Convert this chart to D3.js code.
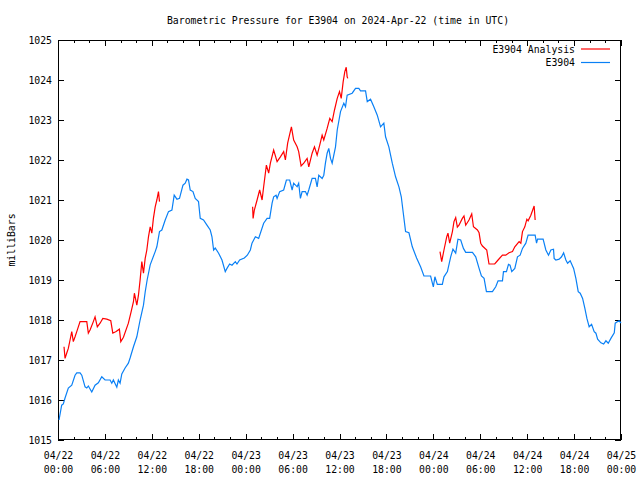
<!DOCTYPE html>
<html>
<head>
<meta charset="utf-8">
<script src="https://cdn.jsdelivr.net/npm/d3@7"></script>
<style>
  body { margin: 0; background: #fff; }
  svg { display: block; font-family: "DejaVu Sans Mono", "Liberation Mono", monospace; }
  .axis text { font-family: "DejaVu Sans Mono", "Liberation Mono", monospace; font-size: 9.8px; fill: #000; }
  .axis line { stroke: #000; }
</style>
</head>
<body>
<div id="chart"></div>
<script>
// hours after 2024-04-22 00:00 UTC, pressure in mbar
const stationHours = [0.13, 0.47, 0.68, 0.9, 1.32, 1.76, 2.18, 2.4, 2.82, 3.04, 3.46, 3.68, 3.88, 4.32, 4.74, 5.16, 5.6, 6.02, 6.66, 6.88, 7.08, 7.52, 7.72, 7.94, 8.16, 8.58, 9.0, 9.22, 9.65, 10.08, 10.5, 10.93, 11.15, 11.4, 11.79, 12.43, 12.64, 12.98, 13.28, 13.71, 14.13, 14.57, 14.86, 15.21, 15.54, 15.98, 16.27, 16.49, 16.69, 16.91, 17.26, 17.55, 17.97, 18.19, 18.61, 19.05, 19.47, 19.69, 19.9, 20.11, 20.54, 20.97, 21.39, 21.61, 21.95, 22.25, 22.68, 22.89, 23.23, 23.83, 24.21, 24.6, 24.81, 25.24, 25.66, 26.3, 26.74, 27.07, 27.38, 27.58, 27.89, 28.02, 28.35, 28.86, 29.21, 29.63, 29.94, 30.14, 30.58, 30.78, 31.0, 31.22, 31.64, 31.86, 32.07, 32.5, 32.92, 33.14, 33.35, 33.78, 33.99, 34.2, 34.42, 34.63, 34.85, 35.06, 35.49, 35.71, 36.13, 36.55, 36.77, 36.98, 37.62, 38.05, 38.47, 38.69, 39.33, 39.55, 39.97, 40.39, 40.83, 41.25, 41.67, 41.89, 42.31, 42.75, 43.17, 43.6, 43.9, 44.16, 44.45, 44.88, 45.31, 45.86, 46.37, 46.8, 47.65, 48.0, 48.2, 48.51, 49.15, 49.36, 49.8, 50.22, 50.51, 50.86, 51.15, 51.5, 51.85, 52.14, 53.0, 53.42, 53.85, 54.15, 54.49, 54.79, 55.56, 55.98, 56.28, 56.84, 56.97, 57.35, 57.61, 57.81, 58.03, 58.42, 58.76, 59.1, 59.4, 59.83, 60.12, 61.02, 61.2, 61.33, 62.04, 62.39, 62.73, 63.03, 63.37, 63.45, 63.67, 64.09, 64.4, 64.66, 64.95, 65.17, 65.5, 65.94, 66.23, 66.53, 66.78, 67.09, 67.38, 67.64, 67.93, 68.24, 68.57, 68.79, 69.01, 69.43, 69.78, 70.07, 70.37, 70.71, 71.14, 71.26, 71.57, 71.77, 72.0];
const stationValues = [1015.5, 1015.87, 1015.9, 1016.05, 1016.3, 1016.37, 1016.62, 1016.68, 1016.68, 1016.62, 1016.33, 1016.3, 1016.35, 1016.2, 1016.37, 1016.43, 1016.58, 1016.5, 1016.5, 1016.42, 1016.5, 1016.32, 1016.5, 1016.42, 1016.65, 1016.8, 1016.92, 1017.05, 1017.33, 1017.58, 1018.0, 1018.37, 1018.7, 1019.0, 1019.38, 1019.71, 1019.83, 1020.21, 1020.25, 1020.5, 1020.71, 1020.75, 1021.12, 1021.02, 1021.04, 1021.37, 1021.42, 1021.52, 1021.5, 1021.25, 1021.21, 1021.04, 1020.96, 1020.54, 1020.5, 1020.37, 1020.25, 1020.08, 1019.75, 1019.8, 1019.67, 1019.5, 1019.21, 1019.29, 1019.4, 1019.37, 1019.46, 1019.4, 1019.5, 1019.55, 1019.62, 1019.75, 1019.92, 1020.08, 1020.04, 1020.42, 1020.54, 1020.54, 1020.92, 1021.08, 1021.12, 1021.04, 1021.21, 1021.25, 1021.5, 1021.5, 1021.25, 1021.42, 1021.33, 1021.42, 1021.04, 1021.21, 1021.21, 1021.12, 1021.25, 1021.54, 1021.54, 1021.33, 1021.62, 1021.54, 1021.62, 1021.92, 1022.17, 1022.29, 1022.04, 1021.92, 1022.33, 1022.75, 1023.21, 1023.42, 1023.33, 1023.62, 1023.67, 1023.79, 1023.79, 1023.73, 1023.73, 1023.46, 1023.52, 1023.33, 1023.12, 1022.83, 1022.92, 1022.58, 1022.33, 1021.92, 1021.58, 1021.33, 1021.08, 1020.67, 1020.21, 1020.18, 1019.83, 1019.55, 1019.33, 1019.1, 1019.1, 1018.83, 1019.08, 1018.89, 1018.89, 1019.08, 1019.21, 1019.58, 1019.77, 1019.67, 1020.02, 1020.0, 1019.79, 1019.69, 1019.69, 1019.58, 1019.29, 1019.1, 1019.04, 1018.71, 1018.71, 1018.83, 1018.98, 1018.98, 1019.21, 1019.21, 1019.39, 1019.37, 1019.21, 1019.29, 1019.58, 1019.62, 1019.79, 1019.92, 1020.12, 1020.12, 1019.92, 1020.02, 1020.02, 1019.75, 1019.62, 1019.75, 1019.77, 1019.54, 1019.5, 1019.52, 1019.58, 1019.68, 1019.5, 1019.42, 1019.48, 1019.29, 1019.04, 1018.71, 1018.67, 1018.54, 1018.29, 1018.04, 1017.83, 1017.89, 1017.71, 1017.67, 1017.52, 1017.43, 1017.4, 1017.48, 1017.42, 1017.54, 1017.68, 1017.92, 1017.96, 1017.98, 1017.92];

// analysis series, null = gap between runs
const analysisHours = [0.77, 0.9, 1.11, 1.32, 1.54, 1.76, 1.96, 2.18, 2.4, 2.82, 3.68, 3.88, 4.1, 4.52, 4.74, 5.03, 5.38, 5.73, 6.24, 6.75, 7.01, 7.43, 7.85, 8.03, 8.37, 9.0, 9.31, 9.65, 9.77, 10.08, 10.29, 10.5, 10.72, 10.93, 11.15, 11.36, 11.57, 11.79, 12.0, 12.2, 12.43, 12.64, 12.85, 12.98,
  18.0,
  24.89, 24.95, 25.11, 25.46, 25.79, 26.1, 26.3, 26.65, 26.94, 27.16, 27.58, 28.02, 28.44, 28.86, 29.08, 29.37, 29.85, 30.14, 30.58, 30.78, 31.09, 31.43, 31.86, 32.07, 32.5, 32.8, 33.14, 33.47, 33.78, 33.99, 34.42, 34.76, 35.06, 35.36, 35.71, 36.0, 36.22, 36.47, 36.68, 36.86, 36.98, 37.06,
  42.0,
  48.85, 49.07, 49.36, 49.71, 49.87, 50.09, 50.44, 50.64, 50.86, 51.07, 51.28, 51.71, 51.92, 52.14, 52.56, 52.91, 53.13, 53.64, 53.85, 54.06, 54.28, 54.83, 55.12, 55.85, 56.28, 56.84, 57.26, 57.68, 58.12, 58.42, 58.97, 59.19, 59.4, 59.7, 59.96, 60.12, 60.47, 60.89, 61.02];
const analysisValues = [1017.33, 1017.04, 1017.17, 1017.29, 1017.5, 1017.71, 1017.46, 1017.58, 1017.71, 1017.96, 1017.96, 1017.67, 1017.75, 1017.96, 1018.08, 1017.83, 1017.92, 1018.04, 1018.02, 1017.98, 1017.67, 1017.71, 1017.77, 1017.46, 1017.57, 1017.92, 1018.17, 1018.46, 1018.67, 1018.37, 1018.62, 1019.0, 1019.46, 1019.17, 1019.54, 1019.75, 1020.08, 1020.33, 1020.17, 1020.54, 1020.83, 1021.0, 1021.21, 1020.96,
  null,
  1020.83, 1020.54, 1020.75, 1021.0, 1021.25, 1021.0, 1021.33, 1021.87, 1021.67, 1021.92, 1022.25, 1021.96, 1022.08, 1022.21, 1022.0, 1022.42, 1022.83, 1022.5, 1022.33, 1022.21, 1021.85, 1021.92, 1022.04, 1021.83, 1022.17, 1022.33, 1022.12, 1022.37, 1022.62, 1022.5, 1022.79, 1023.04, 1022.96, 1023.25, 1023.54, 1023.71, 1023.54, 1023.96, 1024.21, 1024.32, 1024.08, 1024.04,
  null,
  1019.71, 1019.46, 1019.75, 1020.08, 1020.17, 1019.92, 1020.21, 1020.46, 1020.56, 1020.32, 1020.37, 1020.54, 1020.6, 1020.37, 1020.5, 1020.65, 1020.33, 1020.25, 1020.18, 1019.92, 1019.85, 1019.75, 1019.4, 1019.4, 1019.5, 1019.62, 1019.62, 1019.68, 1019.71, 1019.83, 1019.96, 1019.92, 1020.21, 1020.33, 1020.52, 1020.48, 1020.62, 1020.85, 1020.5];

const seriesNames = ['E3904 Analysis', 'E3904'];
const seriesColors = ['#ff0000', '#0a80f5'];
const yTicks = [1015, 1016, 1017, 1018, 1019, 1020, 1021, 1022, 1023, 1024, 1025];
const titleText = 'Barometric Pressure for E3904 on 2024-Apr-22 (time in UTC)';
const yLabel = 'milliBars';

const start = new Date(Date.UTC(2024, 3, 22, 0, 0));
const end = new Date(Date.UTC(2024, 3, 25, 0, 0));
const toDate = h => new Date(start.getTime() + h * 3600e3);

const width = 640, height = 480;
const plotLeft = 58, plotRight = 621, plotTop = 40, plotBottom = 440;

const x = d3.scaleUtc().domain([start, end]).range([plotLeft, plotRight]);
const y = d3.scaleLinear().domain([1015, 1025]).range([plotBottom, plotTop]);

const svg = d3.select('#chart').append('svg')
  .attr('width', width)
  .attr('height', height);

svg.append('text')
  .attr('x', 338)
  .attr('y', 24)
  .attr('text-anchor', 'middle')
  .style('font-size', '9.8px')
  .text(titleText);

svg.append('text')
  .attr('transform', `translate(15,${(plotTop + plotBottom) / 2}) rotate(-90)`)
  .attr('text-anchor', 'middle')
  .style('font-size', '9.8px')
  .text(yLabel);

const majorTicks = d3.utcHour.every(6).range(start, d3.utcHour.offset(end, 1));
const minorTicks = d3.utcHour.every(2).range(start, d3.utcHour.offset(end, 1))
  .filter(d => d.getUTCHours() % 6 !== 0);

// bottom axis with two line labels
const xAxisBottom = svg.append('g')
  .attr('class', 'axis')
  .attr('transform', `translate(0,${plotBottom})`)
  .call(d3.axisBottom(x).tickValues(majorTicks).tickSizeInner(-6).tickSizeOuter(0)
    .tickPadding(12).tickFormat(''));
xAxisBottom.selectAll('.tick text').each(function (d) {
  const t = d3.select(this);
  t.append('tspan').attr('x', 0).attr('dy', '0.71em').text(d3.utcFormat('%m/%d')(d));
  t.append('tspan').attr('x', 0).attr('dy', '1.4em').text(d3.utcFormat('%H:%M')(d));
});
svg.append('g').attr('class', 'axis')
  .attr('transform', `translate(0,${plotBottom})`)
  .call(d3.axisBottom(x).tickValues(minorTicks).tickSizeInner(-3).tickSizeOuter(0).tickFormat(''));

svg.append('g').attr('class', 'axis')
  .attr('transform', `translate(0,${plotTop})`)
  .call(d3.axisTop(x).tickValues(majorTicks).tickSizeInner(-6).tickSizeOuter(0).tickFormat(''));
svg.append('g').attr('class', 'axis')
  .attr('transform', `translate(0,${plotTop})`)
  .call(d3.axisTop(x).tickValues(minorTicks).tickSizeInner(-3).tickSizeOuter(0).tickFormat(''));

svg.append('g').attr('class', 'axis')
  .attr('transform', `translate(${plotLeft},0)`)
  .call(d3.axisLeft(y).tickValues(yTicks).tickSizeInner(-6).tickSizeOuter(0).tickPadding(6)
    .tickFormat(d3.format('d')));
svg.append('g').attr('class', 'axis')
  .attr('transform', `translate(${plotRight},0)`)
  .call(d3.axisRight(y).tickValues(yTicks).tickSizeInner(-6).tickSizeOuter(0).tickFormat(''));

svg.selectAll('.axis .domain').remove();
svg.selectAll('.axis line').attr('shape-rendering', 'crispEdges');

// frame
svg.append('rect')
  .attr('x', plotLeft + 0.5)
  .attr('y', plotTop + 0.5)
  .attr('width', plotRight - plotLeft - 1)
  .attr('height', plotBottom - plotTop - 1)
  .attr('fill', 'none')
  .attr('stroke', '#000')
  .attr('stroke-width', 1);

const line = d3.line()
  .defined(d => d[1] !== null)
  .x(d => x(toDate(d[0])))
  .y(d => y(d[1]));

const analysis = analysisHours.map((h, i) => [h, analysisValues[i]]);
const station = stationHours.map((h, i) => [h, stationValues[i]]);

svg.append('path')
  .datum(analysis)
  .attr('fill', 'none')
  .attr('stroke', seriesColors[0])
  .attr('stroke-width', 1.2)
  .attr('d', line);

svg.append('path')
  .datum(station)
  .attr('fill', 'none')
  .attr('stroke', seriesColors[1])
  .attr('stroke-width', 1.2)
  .attr('d', line);

// legend
const legend = svg.append('g');
seriesNames.forEach((name, i) => {
  const ly = 49 + i * 13.5;
  legend.append('text')
    .attr('x', 575)
    .attr('y', ly + 3.5)
    .attr('text-anchor', 'end')
    .style('font-size', '9.8px')
    .text(name);
  legend.append('line')
    .attr('x1', 581).attr('x2', 610)
    .attr('y1', ly).attr('y2', ly)
    .attr('stroke', seriesColors[i])
    .attr('stroke-width', 1.2);
});
</script>
</body>
</html>
